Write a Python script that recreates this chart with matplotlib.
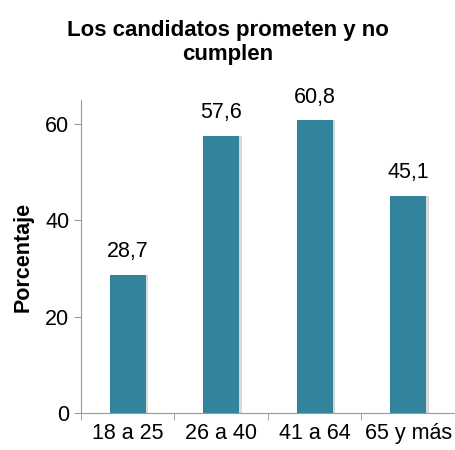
import matplotlib.pyplot as plt
import numpy as np

plt.rcParams['font.family'] = ['Liberation Sans', 'DejaVu Sans']

categories = ['18 a 25', '26 a 40', '41 a 64', '65 y más']
values = [28.7, 57.6, 60.8, 45.1]
labels = ['28,7', '57,6', '60,8', '45,1']

fig = plt.figure(figsize=(4.55, 4.5), dpi=100)
ax = fig.add_axes([0.178, 0.082, 0.822, 0.696])

x = np.arange(len(categories))
# light shadow behind bars
ax.bar(x + 0.02, values, width=0.40, color='#d9d9d9', zorder=1)
ax.bar(x, values, width=0.38, color='#31849B', zorder=2)

for xi, v, lab in zip(x, values, labels):
    ax.text(xi, v + 2.6, lab, ha='center', va='bottom', fontsize=15.5)

ax.set_xlim(-0.5, 3.5)
ax.set_ylim(0, 65)
ax.set_yticks([0, 20, 40, 60])
ax.set_xticks(x)
ax.set_xticklabels(categories)
ax.set_xticks([-0.5, 0.5, 1.5, 2.5], minor=True)
ax.tick_params(axis='x', which='major', length=0, labelsize=15.5, pad=7)
ax.tick_params(axis='x', which='minor', length=5, color='#999999')
ax.tick_params(axis='y', length=5, color='#999999', labelsize=15.5)

for s in ['top', 'right']:
    ax.spines[s].set_visible(False)
for s in ['left', 'bottom']:
    ax.spines[s].set_color('#999999')

ax.set_ylabel('Porcentaje', fontsize=15.5, fontweight='bold', labelpad=8)
fig.text(0.5, 0.905, 'Los candidatos prometen y no\ncumplen', ha='center', va='center',
         fontsize=16, fontweight='bold')

fig.savefig('out.png', dpi=100)
